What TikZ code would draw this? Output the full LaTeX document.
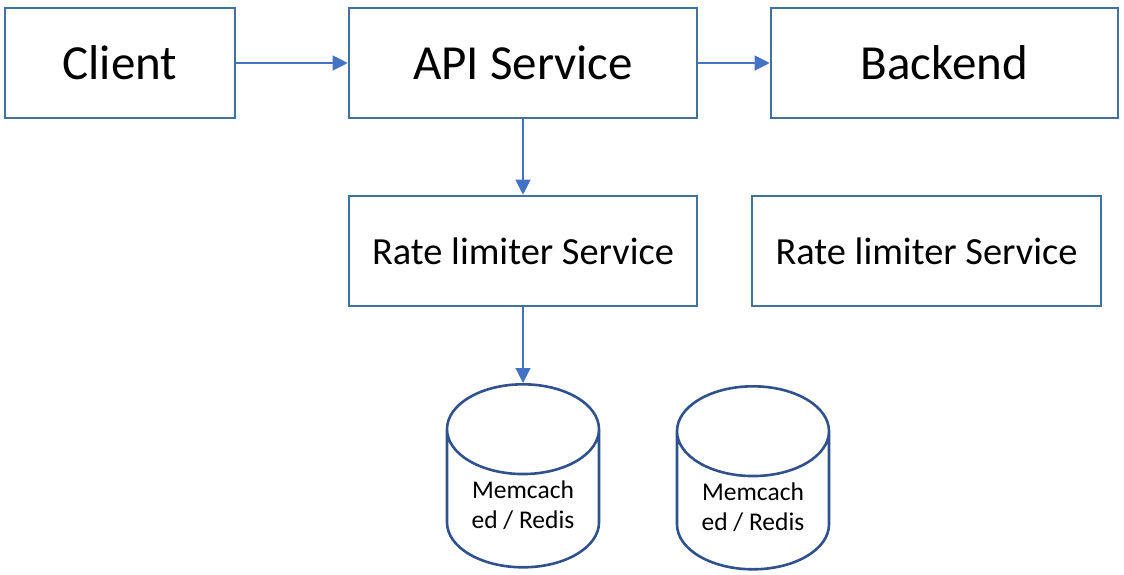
\documentclass[tikz,border=0pt]{standalone}
\usepackage{fontspec}
\setmainfont{Carlito}
\usetikzlibrary{arrows.meta,shapes.geometric}
\definecolor{boxblue}{HTML}{41719C}
\definecolor{dbblue}{HTML}{2F528F}
\definecolor{arrowblue}{HTML}{4472C4}

\begin{document}
\begin{tikzpicture}[x=1pt, y=-1pt,
  svcbox/.style={draw=boxblue, line width=2.6pt, minimum height=110pt, align=center},
  cache/.style={cylinder, shape border rotate=90, aspect=0.82, draw=dbblue, line width=2.6pt,
    minimum width=152pt, minimum height=183pt, align=center, anchor=north,
    font=\fontsize{25.5}{30}\selectfont},
  link/.style={arrowblue, line width=1.2pt, -{Triangle[length=15pt, width=15pt]}}]
\useasboundingbox (0,0) rectangle (1124,574);

% top row
\node[svcbox, minimum width=230pt, font=\fontsize{49}{52}\selectfont] (client) at (120,63) {Client};
\node[svcbox, minimum width=348pt, font=\fontsize{49}{52}\selectfont] (api) at (523,63) {API Service};
\node[svcbox, minimum width=347pt, font=\fontsize{49}{52}\selectfont] (backend) at (944.5,63) {Backend};

% rate limiters
\node[svcbox, minimum width=348pt, font=\fontsize{38.4}{42}\selectfont] (rl1) at (523,251) {Rate limiter Service};
\node[svcbox, minimum width=349pt, font=\fontsize{38.4}{42}\selectfont] (rl2) at (926.5,251) {Rate limiter Service};

% caches
\node[cache] (cache1) at (523,383) {Memcach\\ed / Redis};
\node[cache] (cache2) at (753,385) {Memcach\\ed / Redis};

\draw[link] (client) -- (api);
\draw[link] (api) -- (backend);
\draw[link] (api) -- (rl1);
\draw[link] (rl1) -- (cache1.north);
\end{tikzpicture}
\end{document}
